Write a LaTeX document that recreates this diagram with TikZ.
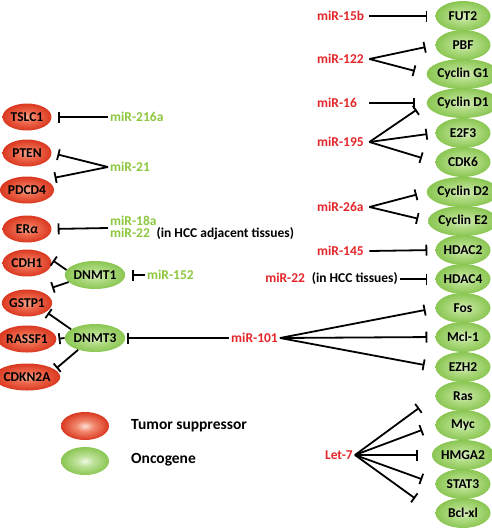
\documentclass[tikz,border=0pt]{standalone}
\usepackage{fontspec}
\setmainfont{Carlito}
\usetikzlibrary{shapes.geometric,arrows.meta}
\definecolor{mred}{HTML}{E3262A}
\definecolor{mgreen}{HTML}{8DC63F}
\definecolor{rA}{HTML}{F7A890}
\definecolor{rB}{HTML}{EE6A4E}
\definecolor{rC}{HTML}{DA3820}
\definecolor{gA}{HTML}{DDF0C6}
\definecolor{gB}{HTML}{B2DC86}
\definecolor{gC}{HTML}{8AC652}
\definecolor{lrA}{HTML}{FBE0D8}
\definecolor{lrB}{HTML}{F28A70}
\definecolor{lgA}{HTML}{F0F8E6}
\definecolor{lgB}{HTML}{BEE29A}
\pgfdeclareradialshading{redsh}{\pgfpoint{0bp}{0bp}}{color(0bp)=(rA); color(10bp)=(rB); color(25bp)=(rC); color(50bp)=(rC)}
\pgfdeclareradialshading{greensh}{\pgfpoint{0bp}{0bp}}{color(0bp)=(gA); color(10bp)=(gB); color(25bp)=(gC); color(50bp)=(gC)}
\pgfdeclareradialshading{lredsh}{\pgfpoint{0bp}{0bp}}{color(0bp)=(lrA); color(9bp)=(lrB); color(25bp)=(rC); color(50bp)=(rC)}
\pgfdeclareradialshading{lgreensh}{\pgfpoint{0bp}{0bp}}{color(0bp)=(lgA); color(9bp)=(lgB); color(25bp)=(gC); color(50bp)=(gC)}
\tikzset{
  gene/.style={ellipse, inner sep=0pt, shade, font=\bfseries\fontsize{13.5}{14}\selectfont, text=black},
  tsg/.style={gene, shading=redsh, minimum width=49pt, minimum height=27pt},
  onc/.style={gene, shading=greensh, minimum width=55pt, minimum height=30pt},
  oncs/.style={gene, shading=greensh, minimum width=48pt, minimum height=28pt},
  lbl/.style={font=\bfseries\fontsize{13.5}{14}\selectfont, inner sep=2pt},
  rlbl/.style={lbl, text=mred},
  glbl/.style={lbl, text=mgreen},
  rcol/.style={rlbl, anchor=west, text width=50pt, align=left},
  inh/.style={line width=1.8pt, -{Bar[width=11pt]}},
  legtext/.style={font=\bfseries\fontsize{15.5}{16}\selectfont, anchor=west, inner sep=0pt}
}
\begin{document}
\begin{tikzpicture}[x=1pt,y=-1pt]
\useasboundingbox (0,0) rectangle (492,531);
% right column
\node[onc] (fut2) at (463,16) {FUT2};
\node[onc] (pbf) at (463,45) {PBF};
\node[onc] (cg1) at (463,74) {Cyclin G1};
\node[onc] (cd1) at (463,103) {Cyclin D1};
\node[onc] (e2f3) at (463,133) {E2F3};
\node[onc] (cdk6) at (463,162) {CDK6};
\node[onc] (cd2) at (463,192) {Cyclin D2};
\node[onc] (ce2) at (463,221) {Cyclin E2};
\node[onc] (hdac2) at (463,250) {HDAC2};
\node[onc] (hdac4) at (463,279) {HDAC4};
\node[onc] (fos) at (463,308) {Fos};
\node[onc] (mcl1) at (463,337) {Mcl-1};
\node[onc] (ezh2) at (463,367) {EZH2};
\node[onc] (ras) at (463,396) {Ras};
\node[onc] (myc) at (463,425) {Myc};
\node[onc] (hmga2) at (463,455) {HMGA2};
\node[onc] (stat3) at (463,484) {STAT3};
\node[onc] (bclxl) at (463,513) {Bcl-xl};
% left column
\node[tsg] (tslc1) at (27,117) {TSLC1};
\node[tsg] (pten) at (27,153) {PTEN};
\node[tsg] (pdcd4) at (27,190) {PDCD4};
\node[tsg] (era) at (27,229) {ER\textit{α}};
\node[tsg] (cdh1) at (27,263) {CDH1};
\node[tsg] (gstp1) at (27,303) {GSTP1};
\node[tsg] (rassf1) at (27,339) {RASSF1};
\node[tsg] (cdkn2a) at (27,377) {CDKN2A};
\node[oncs] (dnmt1) at (95,275) {DNMT1};
\node[oncs] (dnmt3) at (95,338) {DNMT3};
% right labels
\node[rcol] (m15b) at (315,16) {miR-15b};
\node[rcol] (m122) at (315,59) {miR-122};
\node[rcol] (m16) at (315,103) {miR-16};
\node[rcol] (m195) at (315,142) {miR-195};
\node[rcol] (m26a) at (315,207) {miR-26a};
\node[rcol] (m145) at (315,251) {miR-145};
\node[lbl, anchor=east] (m22r) at (400,279) {\textcolor{mred}{miR-22}\enspace(in HCC tissues)};
\node[rlbl, anchor=east] (m101) at (280,338) {miR-101};
\node[rlbl, anchor=east] (let7) at (355,455) {Let-7};
% left labels
\node[glbl, anchor=west] (m216) at (108,117) {miR-216a};
\node[glbl, anchor=west] (m21) at (108,167) {miR-21};
\node[lbl, anchor=west, align=left, font=\bfseries\fontsize{13.5}{12}\selectfont] (m18) at (108,228) {\textcolor{mgreen}{miR-18a}\\\textcolor{mgreen}{miR-22}\enspace(in HCC adjacent tissues)};
\node[glbl, anchor=west] (m152) at (145,275) {miR-152};
% connectors right
\draw[inh, shorten >=8pt] (m15b.east) -- (fut2.west);
\draw[inh, shorten >=10pt] (m122.east) -- (pbf.west);
\draw[inh, shorten >=12pt] (m122.east) -- (cg1.west);
\draw[inh, shorten >=12pt] (m16.east) -- (cd1.west);
\draw[inh, shorten >=12pt] (m195.east) -- (cd1.west);
\draw[inh, shorten >=8pt] (m195.east) -- (e2f3.west);
\draw[inh, shorten >=14pt] (m195.east) -- (cdk6.west);
\draw[inh, shorten >=10pt] (m26a.east) -- (cd2.west);
\draw[inh, shorten >=10pt] (m26a.east) -- (ce2.west);
\draw[inh, shorten >=8pt] (m145.east) -- (hdac2.west);
\draw[inh, shorten >=8pt] (m22r.east) -- (hdac4.west);
\draw[inh, shorten >=10pt] (m101.east) -- (fos.west);
\draw[inh, shorten >=8pt] (m101.east) -- (mcl1.west);
\draw[inh, shorten >=11pt] (m101.east) -- (ezh2.west);
\draw[inh, shorten >=2pt] (m101.west) -- (dnmt3.east);
\draw[inh, shorten >=20pt] (let7.east) -- (ras.west);
\draw[inh, shorten >=14pt] (let7.east) -- (myc.west);
\draw[inh, shorten >=14pt] (let7.east) -- (hmga2.west);
\draw[inh, shorten >=14pt] (let7.east) -- (stat3.west);
\draw[inh, shorten >=25pt] (let7.east) -- (bclxl.west);
% connectors left
\draw[inh, shorten >=6pt] (m216.west) -- (tslc1.east);
\draw[inh, shorten >=6pt] (m21.west) -- (pten.east);
\draw[inh, shorten >=10pt] (m21.west) -- (pdcd4.30);
\draw[inh, shorten >=6pt] (m18.west) -- (era.east);
\draw[inh, shorten >=7pt] (m152.west) -- (dnmt1.east);
\draw[inh, shorten >=3pt] (dnmt1.170) -- (cdh1.10);
\draw[inh, shorten >=12pt] (dnmt1.195) -- (gstp1.40);
\draw[inh, shorten >=2pt] (dnmt3.160) -- (gstp1.-25);
\draw[inh, shorten >=2pt] (dnmt3.west) -- (rassf1.east);
\draw[inh, shorten >=2pt] (dnmt3.215) -- (cdkn2a.15);
% legend
\node[gene, shading=lredsh, minimum width=48pt, minimum height=28pt] (legr) at (85,426) {};
\node[gene, shading=lgreensh, minimum width=48pt, minimum height=28pt] (legg) at (85,461) {};
\node[legtext] (legrt) at (131,426) {Tumor suppressor};
\node[legtext] (leggt) at (131,460) {Oncogene};
\end{tikzpicture}
\end{document}
